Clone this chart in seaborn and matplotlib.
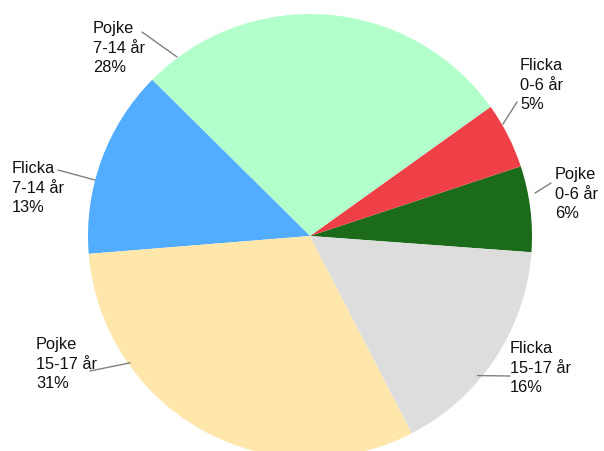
import matplotlib
matplotlib.use("Agg")
import numpy as np
import matplotlib.pyplot as plt
import seaborn as sns

# ================================
# Data
# ================================
groups = ["Pojke\n0-6 år", "Flicka\n0-6 år", "Pojke\n7-14 år",
          "Flicka\n7-14 år", "Pojke\n15-17 år", "Flicka\n15-17 år"]
shares = [6.25, 4.8, 27.7, 13.7, 31.3, 16.25]
pct_labels = ["6%", "5%", "28%", "13%", "31%", "16%"]
colors = ["#1b6b1b", "#ef4048", "#b3ffcc", "#52acff", "#ffe6aa", "#dddddd"]

# ================================
# Layout (pixel coords, y from top)
# ================================
W, H = 604, 452
cx, cy, R = 310, 237, 222
start_deg = -4.2
label_xy = [(555, 167), (520, 58), (93, 21), (12, 161), (36, 337), (510, 341)]
leader_from = [(551, 184), (517, 103), (142, 33), (58, 171), (90, 372), (510, 377)]
leader_to = [(10.8, 229), (30.1, 223), (126.6, 223), (165.4, 222), (215.2, 220), (320.2, 218)]

sns.set_theme(style="white")
plt.rcParams["font.family"] = ["Liberation Sans", "DejaVu Sans"]

fig = plt.figure(figsize=(W / 100, H / 100), dpi=100)
ax = fig.add_axes([0, 0, 1, 1])

ax.pie(shares, colors=colors, startangle=start_deg, counterclock=True,
       center=(cx, H - cy), radius=R, wedgeprops=dict(linewidth=0))

for g, p, (tx, ty), (fx, fy), (ang, r) in zip(groups, pct_labels, label_xy,
                                               leader_from, leader_to):
    ax.text(tx, H - ty, f"{g}\n{p}", ha="left", va="top", fontsize=11.8,
            linespacing=1.38, color="#111111")
    ex = cx + r * np.cos(np.radians(ang))
    ey = (H - cy) + r * np.sin(np.radians(ang))
    ax.plot([fx, ex], [H - fy, ey], color="#808080", lw=1)

ax.set_xlim(0, W)
ax.set_ylim(0, H)
ax.set_aspect("equal")
ax.axis("off")

fig.savefig("out.png", dpi=100)
